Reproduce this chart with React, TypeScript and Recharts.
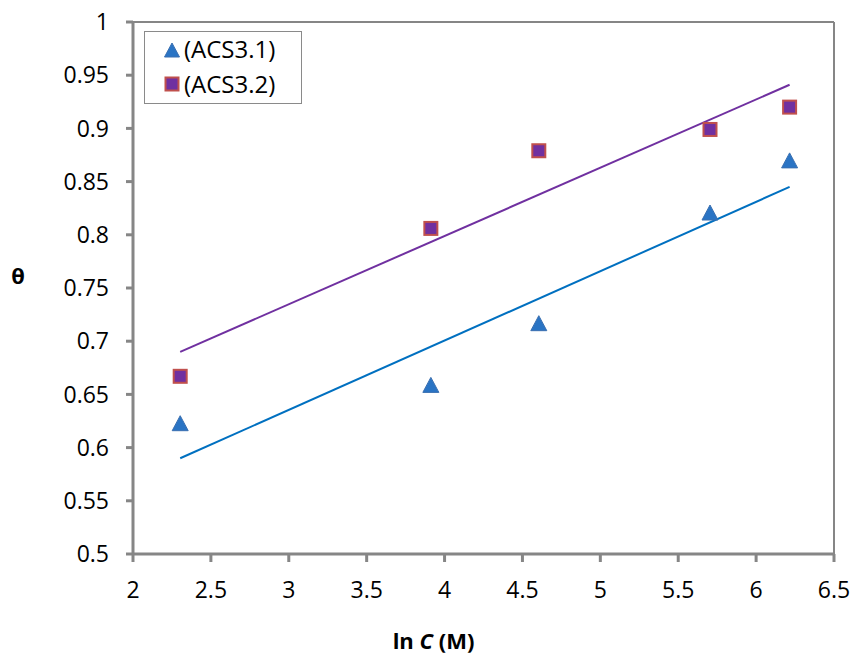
import React from 'react';
import { ComposedChart, Scatter, XAxis, YAxis, ReferenceLine } from 'recharts';

const lnC = [2.303, 3.912, 4.605, 5.704, 6.215];
const acs31 = [0.622, 0.658, 0.716, 0.82, 0.869];
const acs32 = [0.667, 0.806, 0.879, 0.899, 0.92];
const fitX = [2.303, 6.215];
const fit31 = [0.59, 0.845];
const fit32 = [0.69, 0.941];
const xTicks = [2, 2.5, 3, 3.5, 4, 4.5, 5, 5.5, 6, 6.5];
const yTicks = [0.5, 0.55, 0.6, 0.65, 0.7, 0.75, 0.8, 0.85, 0.9, 0.95, 1];
const seriesNames = ['(ACS3.1)', '(ACS3.2)'];

const d31 = lnC.map((x, i) => ({ x, y: acs31[i] }));
const d32 = lnC.map((x, i) => ({ x, y: acs32[i] }));
const l31 = fitX.map((x, i) => ({ x, y: fit31[i] }));
const l32 = fitX.map((x, i) => ({ x, y: fit32[i] }));

const FONT = '"Open Sans", sans-serif';
const AXIS = '#868686';
const BLUE_FILL = '#2a74c4';
const BLUE_STROKE = '#3a6fb0';
const PURPLE = '#7030A0';
const RED = '#C0504D';

const Triangle = (props: any) => {
  const { cx, cy } = props;
  if (cx == null || cy == null) return null;
  return (
    <polygon
      points={`${cx},${cy - 8.5} ${cx + 8},${cy + 6.5} ${cx - 8},${cy + 6.5}`}
      fill={BLUE_FILL}
      stroke={BLUE_STROKE}
      strokeWidth={1}
    />
  );
};

const Square = (props: any) => {
  const { cx, cy } = props;
  if (cx == null || cy == null) return null;
  return <rect x={cx - 6.5} y={cy - 6.5} width={13} height={13} fill={PURPLE} stroke={RED} strokeWidth={2} />;
};

const NoShape = () => null;

const LegendBox = () => (
  <div
    style={{
      position: 'absolute',
      left: 144,
      top: 31,
      width: 158,
      height: 73,
      border: '1.5px solid #8a8a8a',
      background: '#fff',
      fontFamily: FONT,
      fontSize: 24,
      color: '#000',
      boxSizing: 'border-box',
    }}
  >
    <svg width={20} height={20} style={{ position: 'absolute', left: 17, top: 9 }}>
      <polygon points="10,2 17.5,16 2.5,16" fill={BLUE_FILL} stroke={BLUE_STROKE} strokeWidth={1} />
    </svg>
    <div style={{ position: 'absolute', left: 39, top: 0, lineHeight: '34px', whiteSpace: 'nowrap' }}>{seriesNames[0]}</div>
    <svg width={20} height={20} style={{ position: 'absolute', left: 17, top: 42 }}>
      <rect x={3.5} y={3.5} width={13} height={13} fill={PURPLE} stroke={RED} strokeWidth={2} />
    </svg>
    <div style={{ position: 'absolute', left: 39, top: 35, lineHeight: '34px', whiteSpace: 'nowrap' }}>{seriesNames[1]}</div>
  </div>
);

const XLabel = (props: any) => {
  const { viewBox } = props;
  const cx = viewBox.x + viewBox.width / 2 - 50;
  return (
    <text x={cx} y={649} textAnchor="middle" fontFamily={FONT} fontSize={22} fontWeight="bold" fill="#000">
      <tspan>ln </tspan>
      <tspan fontStyle="italic">C</tspan>
      <tspan> (M)</tspan>
    </text>
  );
};

const YLabel = () => (
  <text x={18} y={284} textAnchor="middle" fontFamily={FONT} fontSize={22} fontWeight="bold" fill="#000">
    θ
  </text>
);

export default function App() {
  return (
    <div style={{ position: 'absolute', left: 0, top: 0, width: 850, height: 657, background: '#fff' }}>
      <ComposedChart width={850} height={657} margin={{ top: 22, right: 16, left: 0, bottom: 0 }}>
        <XAxis
          type="number"
          dataKey="x"
          domain={[2, 6.5]}
          ticks={xTicks}
          interval={0}
          allowDataOverflow
          stroke={AXIS}
          strokeWidth={3}
          tickSize={8}
          tickMargin={20}
          height={103}
          tick={{ fill: '#000', fontFamily: FONT, fontSize: 23 }}
          tickLine={{ stroke: AXIS, strokeWidth: 3 }}
          label={<XLabel />}
        />
        <YAxis
          type="number"
          dataKey="y"
          domain={[0.5, 1]}
          ticks={yTicks}
          interval={0}
          allowDataOverflow
          stroke={AXIS}
          strokeWidth={3}
          tickSize={7}
          tickMargin={17}
          width={133}
          tick={{ fill: '#000', fontFamily: FONT, fontSize: 23 }}
          tickLine={{ stroke: AXIS, strokeWidth: 3 }}
          label={<YLabel />}
        />
        <ReferenceLine y={1} stroke={AXIS} strokeWidth={2} />
        <ReferenceLine x={6.5} stroke={AXIS} strokeWidth={2} />
        <Scatter data={l31} line={{ stroke: '#0070C0', strokeWidth: 2 }} shape={<NoShape />} isAnimationActive={false} legendType="none" />
        <Scatter data={l32} line={{ stroke: PURPLE, strokeWidth: 2 }} shape={<NoShape />} isAnimationActive={false} legendType="none" />
        <Scatter name={seriesNames[0]} data={d31} shape={<Triangle />} isAnimationActive={false} />
        <Scatter name={seriesNames[1]} data={d32} shape={<Square />} isAnimationActive={false} />
      </ComposedChart>
      <LegendBox />
    </div>
  );
}
